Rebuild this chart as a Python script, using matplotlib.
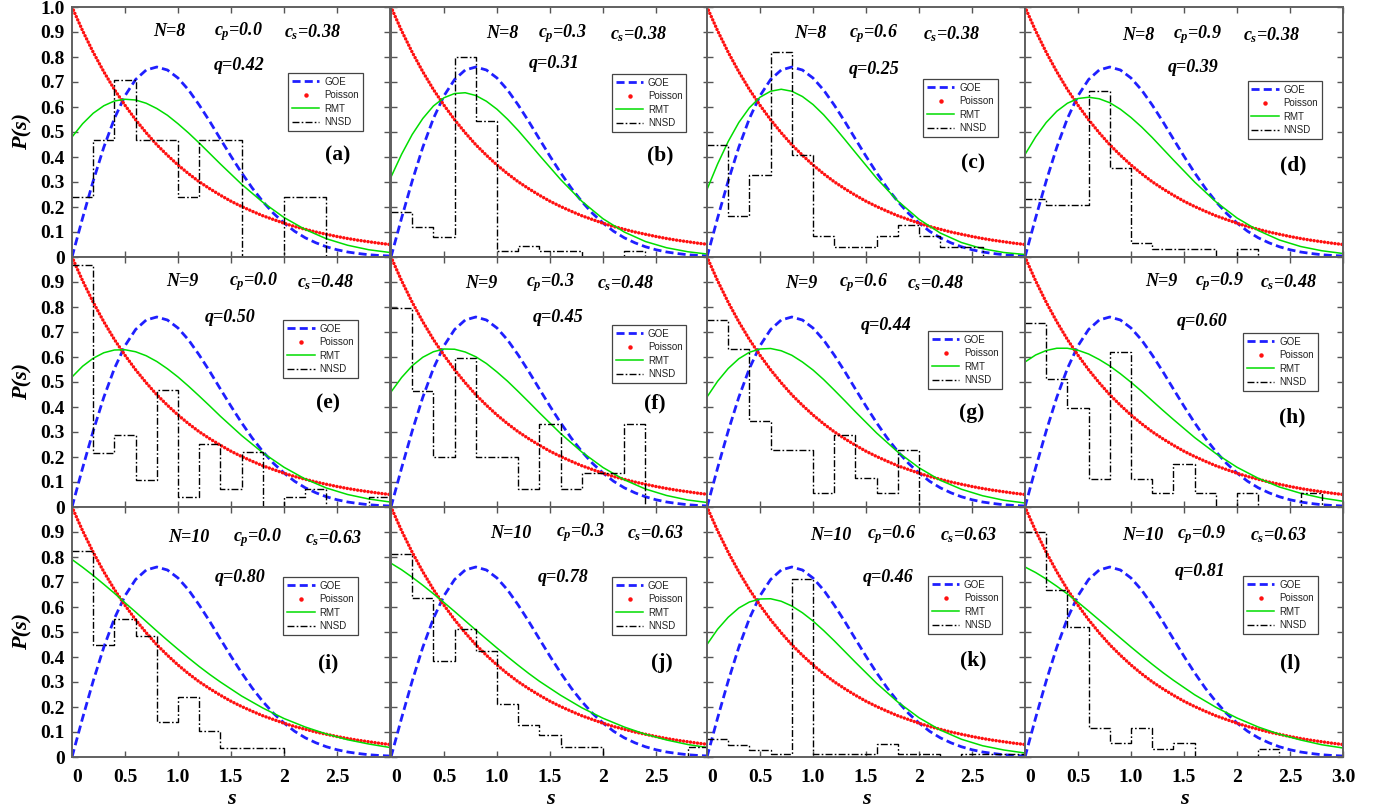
import matplotlib
matplotlib.use('Agg')
import matplotlib.pyplot as plt
from matplotlib.lines import Line2D

plt.rcParams['font.family'] = ['Liberation Serif', 'DejaVu Serif']
plt.rcParams['font.weight'] = 'bold'
plt.rcParams['mathtext.fontset'] = 'custom'
plt.rcParams['mathtext.it'] = 'Liberation Serif:italic:bold'
plt.rcParams['mathtext.rm'] = 'Liberation Serif:bold'
plt.rcParams['mathtext.bf'] = 'Liberation Serif:bold'

# ---------------- data ----------------
s_fine = [0.0, 0.1, 0.2, 0.3, 0.4, 0.5, 0.6, 0.7, 0.8, 0.9, 1.0, 1.1, 1.2, 1.3, 1.4, 1.5,
          1.6, 1.7, 1.8, 1.9, 2.0, 2.1, 2.2, 2.3, 2.4, 2.5, 2.6, 2.7, 2.8, 2.9, 3.0]
goe = [0.0, 0.156, 0.304, 0.439, 0.554, 0.645, 0.710, 0.748, 0.760, 0.748, 0.716, 0.668,
       0.608, 0.542, 0.472, 0.403, 0.337, 0.276, 0.222, 0.175, 0.136, 0.103, 0.077, 0.057,
       0.041, 0.029, 0.020, 0.014, 0.009, 0.006, 0.004]
poisson = [1.0, 0.905, 0.819, 0.741, 0.670, 0.607, 0.549, 0.497, 0.449, 0.407, 0.368, 0.333,
           0.301, 0.273, 0.247, 0.223, 0.202, 0.183, 0.165, 0.150, 0.135, 0.122, 0.111, 0.100,
           0.091, 0.082, 0.074, 0.067, 0.061, 0.055, 0.050]

s_rmt = [0.0, 0.1, 0.2, 0.3, 0.4, 0.5, 0.6, 0.7, 0.8, 0.9, 1.0, 1.1, 1.2, 1.3, 1.4,
         1.6, 1.8, 2.0, 2.2, 2.4, 2.6, 2.8, 3.0]
rmt_a = [0.480, 0.533, 0.575, 0.605, 0.624, 0.631, 0.628, 0.615, 0.594, 0.567, 0.533, 0.496, 0.456, 0.414, 0.372,
         0.291, 0.219, 0.158, 0.110, 0.073, 0.047, 0.029, 0.018]
rmt_b = [0.320, 0.411, 0.490, 0.554, 0.604, 0.637, 0.654, 0.657, 0.646, 0.623, 0.591, 0.551, 0.506, 0.457, 0.407,
         0.310, 0.223, 0.153, 0.100, 0.062, 0.037, 0.021, 0.011]
rmt_c = [0.270, 0.372, 0.462, 0.538, 0.597, 0.639, 0.663, 0.671, 0.663, 0.642, 0.610, 0.569, 0.521, 0.470, 0.418,
         0.315, 0.224, 0.151, 0.096, 0.058, 0.033, 0.018, 0.010]
rmt_d = [0.410, 0.480, 0.538, 0.583, 0.615, 0.634, 0.639, 0.633, 0.617, 0.591, 0.558, 0.520, 0.478, 0.433, 0.388,
         0.300, 0.221, 0.156, 0.106, 0.068, 0.042, 0.025, 0.014]
rmt_e = [0.520, 0.563, 0.595, 0.617, 0.628, 0.629, 0.621, 0.605, 0.582, 0.553, 0.520, 0.483, 0.444, 0.404, 0.363,
         0.286, 0.217, 0.159, 0.112, 0.076, 0.050, 0.032, 0.020]
rmt_f = [0.460, 0.518, 0.565, 0.599, 0.621, 0.632, 0.631, 0.620, 0.601, 0.574, 0.540, 0.503, 0.462, 0.420, 0.377,
         0.294, 0.220, 0.158, 0.109, 0.072, 0.046, 0.028, 0.017]
rmt_g = [0.440, 0.503, 0.554, 0.593, 0.619, 0.632, 0.634, 0.625, 0.607, 0.580, 0.548, 0.510, 0.468, 0.425, 0.381,
         0.296, 0.220, 0.157, 0.107, 0.071, 0.045, 0.027, 0.016]
rmt_h = [0.580, 0.608, 0.626, 0.635, 0.635, 0.627, 0.612, 0.590, 0.564, 0.533, 0.499, 0.463, 0.425, 0.387, 0.350,
         0.278, 0.214, 0.159, 0.115, 0.080, 0.055, 0.036, 0.023]
rmt_i = [0.790, 0.759, 0.726, 0.691, 0.655, 0.617, 0.580, 0.542, 0.504, 0.467, 0.431, 0.396, 0.362, 0.330, 0.300,
         0.244, 0.196, 0.154, 0.120, 0.092, 0.069, 0.052, 0.038]
rmt_j = [0.775, 0.749, 0.719, 0.687, 0.653, 0.618, 0.582, 0.545, 0.508, 0.472, 0.436, 0.401, 0.367, 0.334, 0.303,
         0.247, 0.197, 0.155, 0.120, 0.091, 0.068, 0.050, 0.037]
rmt_k = [0.450, 0.511, 0.559, 0.596, 0.620, 0.632, 0.633, 0.623, 0.604, 0.577, 0.544, 0.506, 0.465, 0.422, 0.379,
         0.295, 0.220, 0.157, 0.108, 0.071, 0.045, 0.028, 0.016]
rmt_l = [0.760, 0.738, 0.712, 0.683, 0.652, 0.619, 0.584, 0.548, 0.512, 0.476, 0.440, 0.405, 0.371, 0.338, 0.307,
         0.249, 0.199, 0.156, 0.120, 0.091, 0.068, 0.049, 0.036]

bin_edges = [0.0, 0.2, 0.4, 0.6, 0.8, 1.0, 1.2, 1.4, 1.6, 1.8, 2.0, 2.2, 2.4, 2.6, 2.8, 3.0]
nnsd_a = [0.24, 0.47, 0.71, 0.47, 0.47, 0.24, 0.47, 0.47, 0.0, 0.0, 0.24, 0.24, 0.0, 0.0, 0.0]
nnsd_b = [0.18, 0.12, 0.08, 0.80, 0.545, 0.025, 0.045, 0.025, 0.025, 0.0, 0.0, 0.025, 0.0, 0.0, 0.0]
nnsd_c = [0.45, 0.165, 0.33, 0.82, 0.41, 0.085, 0.041, 0.041, 0.085, 0.127, 0.085, 0.041, 0.041, 0.0, 0.0]
nnsd_d = [0.232, 0.208, 0.208, 0.665, 0.357, 0.057, 0.031, 0.031, 0.031, 0.0, 0.031, 0.0, 0.0, 0.0, 0.0]
nnsd_e = [0.967, 0.217, 0.288, 0.108, 0.468, 0.039, 0.252, 0.073, 0.219, 0.0, 0.039, 0.073, 0.0, 0.0, 0.039]
nnsd_f = [0.795, 0.465, 0.199, 0.595, 0.199, 0.199, 0.071, 0.332, 0.071, 0.137, 0.137, 0.332, 0.0, 0.0, 0.0]
nnsd_g = [0.748, 0.633, 0.345, 0.228, 0.228, 0.057, 0.288, 0.115, 0.057, 0.228, 0.0, 0.0, 0.0, 0.0, 0.0]
nnsd_h = [0.737, 0.511, 0.395, 0.111, 0.621, 0.111, 0.057, 0.172, 0.057, 0.0, 0.057, 0.0, 0.0, 0.057, 0.0]
nnsd_i = [0.825, 0.448, 0.551, 0.484, 0.141, 0.241, 0.105, 0.035, 0.035, 0.035, 0.0, 0.0, 0.0, 0.0, 0.0]
nnsd_j = [0.811, 0.637, 0.384, 0.512, 0.425, 0.212, 0.128, 0.087, 0.041, 0.041, 0.0, 0.0, 0.0, 0.0, 0.041]
nnsd_k = [0.073, 0.048, 0.028, 0.012, 0.711, 0.012, 0.012, 0.012, 0.051, 0.012, 0.012, 0.0, 0.012, 0.012, 0.012]
nnsd_l = [0.899, 0.668, 0.521, 0.115, 0.057, 0.115, 0.031, 0.057, 0.0, 0.0, 0.0, 0.031, 0.0, 0.0, 0.0]

letters = ['a', 'b', 'c', 'd', 'e', 'f', 'g', 'h', 'i', 'j', 'k', 'l']
n_vals = ['8', '8', '8', '8', '9', '9', '9', '9', '10', '10', '10', '10']
cp_vals = ['0.0', '0.3', '0.6', '0.9'] * 3
cs_vals = ['0.38'] * 4 + ['0.48'] * 4 + ['0.63'] * 4
q_vals = ['0.42', '0.31', '0.25', '0.39', '0.50', '0.45', '0.44', '0.60',
          '0.80', '0.78', '0.46', '0.81']
rmt_list = [rmt_a, rmt_b, rmt_c, rmt_d, rmt_e, rmt_f, rmt_g, rmt_h, rmt_i, rmt_j, rmt_k, rmt_l]
nnsd_list = [nnsd_a, nnsd_b, nnsd_c, nnsd_d, nnsd_e, nnsd_f, nnsd_g, nnsd_h, nnsd_i, nnsd_j, nnsd_k, nnsd_l]

x_ticks = [0, 0.5, 1.0, 1.5, 2.0, 2.5, 3.0]
x_labels = ['0', '0.5', '1.0', '1.5', '2', '2.5', '']
y_ticks = [0, 0.1, 0.2, 0.3, 0.4, 0.5, 0.6, 0.7, 0.8, 0.9, 1.0]
y_labels = ['0', '0.1', '0.2', '0.3', '0.4', '0.5', '0.6', '0.7', '0.8', '0.9', '1.0']

# ---------------- layout (axes-fraction positions of texts) ----------------
# (N x, cp x, cs x, row y, q x, q y, letter x, letter y, legend x, legend top)
layout = [
    (0.255, 0.445, 0.667, 0.900, 0.445, 0.768, 0.834, 0.408, 0.680, 0.736),
    (0.300, 0.462, 0.689, 0.893, 0.432, 0.775, 0.846, 0.408, 0.695, 0.732),
    (0.274, 0.447, 0.678, 0.893, 0.447, 0.748, 0.837, 0.376, 0.680, 0.712),
    (0.305, 0.465, 0.686, 0.888, 0.450, 0.756, 0.843, 0.368, 0.700, 0.704),
    (0.295, 0.494, 0.706, 0.900, 0.418, 0.756, 0.806, 0.416, 0.665, 0.748),
    (0.233, 0.425, 0.648, 0.896, 0.447, 0.756, 0.830, 0.416, 0.695, 0.728),
    (0.245, 0.415, 0.629, 0.896, 0.484, 0.728, 0.833, 0.376, 0.695, 0.704),
    (0.377, 0.535, 0.739, 0.900, 0.478, 0.740, 0.840, 0.360, 0.686, 0.696),
    (0.302, 0.506, 0.733, 0.876, 0.450, 0.720, 0.806, 0.376, 0.665, 0.720),
    (0.311, 0.519, 0.742, 0.896, 0.462, 0.716, 0.852, 0.376, 0.695, 0.720),
    (0.324, 0.503, 0.733, 0.888, 0.491, 0.720, 0.837, 0.388, 0.695, 0.724),
    (0.305, 0.478, 0.708, 0.888, 0.472, 0.740, 0.833, 0.376, 0.686, 0.724),
]

W, H = 1375, 811
fig = plt.figure(figsize=(W / 100, H / 100), dpi=100)
col_left = [72, 391, 707, 1025]
row_top = [7, 257, 507]
pw, ph = 318, 250

c_goe = '#1f1fff'
c_poi = '#ff1010'
c_rmt = '#00dd00'
goe_ls = (0, (2.9, 1.5))
nnsd_ls = (0, (5, 1.6, 1.2, 1.6))

txt_kw = dict(fontsize=13, fontweight='bold', fontstyle='italic', va='center', ha='left')

for idx in range(12):
    r, c = divmod(idx, 4)
    ax = fig.add_axes([col_left[c] / W, (H - row_top[r] - ph) / H, pw / W, ph / H])
    ax.plot(s_fine, goe, color=c_goe, lw=2.0, ls=goe_ls)
    ax.plot(s_fine, poisson, color=c_poi, lw=2.5, ls=(0, (0.01, 1.0)), dash_capstyle='round')
    ax.plot(s_rmt, rmt_list[idx], color=c_rmt, lw=1.1)
    vals = nnsd_list[idx]
    ax.step(bin_edges, vals + [vals[-1]], where='post', color='black', lw=1.0, ls=nnsd_ls)
    ax.set_xlim(0, 3.0)
    ax.set_ylim(0, 1.0)
    ax.set_xticks(x_ticks)
    ax.set_yticks(y_ticks)
    ax.tick_params(direction='in', top=True, right=True, length=4, width=1,
                   color='#555555', labelsize=14, pad=5)
    ax.tick_params(axis='x', pad=9)
    for sp in ax.spines.values():
        sp.set_color('#606060')
        sp.set_linewidth(1.4)
    if c == 0:
        yl = list(y_labels)
        if r > 0:
            yl[-1] = ''
        ax.set_yticklabels(yl)
    else:
        ax.tick_params(labelleft=False)
    if r == 2:
        xl = list(x_labels)
        if c == 3:
            xl[-1] = '3.0'
        ax.set_xticklabels(xl)
        ax.get_xticklabels()[0].set_horizontalalignment('left')
        ax.set_xlabel('s', fontsize=16, fontweight='bold', fontstyle='italic', labelpad=2)
    else:
        ax.tick_params(labelbottom=False)

    L = layout[idx]
    ax.text(L[0], L[3], 'N=' + n_vals[idx], transform=ax.transAxes, **txt_kw)
    ax.text(L[1], L[3], r'$c_p$=' + cp_vals[idx], transform=ax.transAxes, **txt_kw)
    ax.text(L[2], L[3], r'$c_s$=' + cs_vals[idx], transform=ax.transAxes, **txt_kw)
    ax.text(L[4], L[5], 'q=' + q_vals[idx], transform=ax.transAxes, **txt_kw)
    ax.text(L[6], L[7], '(' + letters[idx] + ')', transform=ax.transAxes, fontsize=15.5,
            fontweight='bold', ha='center', va='center')

    handles = [Line2D([], [], color=c_goe, lw=2.0, ls=goe_ls),
               Line2D([], [], color=c_poi, marker='o', ms=2.2, ls='none'),
               Line2D([], [], color=c_rmt, lw=1.1),
               Line2D([], [], color='black', lw=1.0, ls=nnsd_ls)]
    leg = ax.legend(handles, ['GOE', 'Poisson', 'RMT', 'NNSD'], loc='upper left',
                    bbox_to_anchor=(L[8], L[9]), borderaxespad=0,
                    prop={'family': 'Liberation Sans', 'size': 7, 'weight': 'normal'},
                    frameon=True, fancybox=False, framealpha=1, edgecolor='#444444',
                    borderpad=0.4, labelspacing=0.35, handlelength=2.8, handletextpad=0.5,
                    numpoints=1)
    leg.get_frame().set_linewidth(0.9)
    for t in leg.get_texts():
        t.set_color('#222222')

for r in range(3):
    yc = 1 - (row_top[r] + ph / 2) / H
    fig.text(22 / W, yc, 'P(s)', rotation=90, ha='center', va='center',
             fontsize=16, fontweight='bold', fontstyle='italic')

fig.savefig('out.png', dpi=100)
